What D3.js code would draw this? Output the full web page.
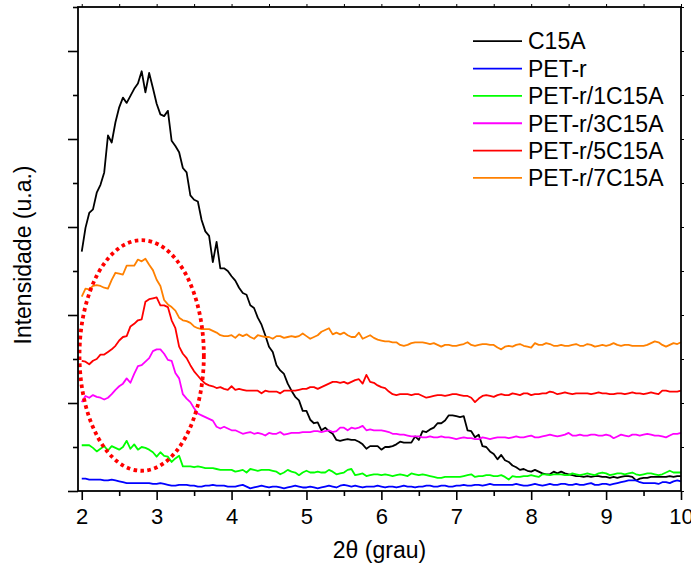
<!DOCTYPE html>
<html>
<head>
<meta charset="utf-8">
<script src="https://cdn.jsdelivr.net/npm/d3@7"></script>
<style>
  body { margin: 0; background: #fff; }
  svg { display: block; }
  text { font-family: Arial, "Liberation Sans", sans-serif; fill: #000; }
</style>
</head>
<body>
<svg id="chart" width="691" height="568"></svg>
<script>
// XRD scans, 2θ from 2° to 10° in 0.05° steps (intensity in arbitrary units)
const STEP = 0.05;
const twoTheta = d3.range(161).map(i => +(2 + i * STEP).toFixed(2));

const c15a = [
  272,299,316,320,339,348,362,404,396,419,
  436,447,441,449,457,463,477,453,475,458,
  440,428,426,432,398,392,385,367,362,336,
  331,329,308,295,290,260,283,253,253,250,
  244,239,231,225,223,211,208,197,189,177,
  164,158,143,137,133,122,114,107,103,91,
  91,81,77,78,69,72,68,65,58,57,
  58,59,58,58,56,53,48,51,51,51,
  47,50,50,51,53,56,55,55,55,62,
  58,68,67,70,72,77,77,80,86,86,
  85,84,85,69,68,61,64,51,50,45,
  42,36,41,35,33,29,27,24,25,23,
  22,24,22,20,19,19,22,20,22,20,
  19,18,17,17,16,17,16,17,17,16,
  16,15,16,15,16,17,17,16,12,14,
  15,15,16,16,16,16,16,17,16,17,
  17
];

const petR = [
  14,14,13,13,13,13,12,12,13,12,
  11,10,9,9,9,9,9,9,9,8,
  8,9,8,7,6,6,7,7,7,6,
  6,5,5,6,6,7,6,6,6,5,
  5,5,6,7,5,3,4,5,6,5,
  4,5,5,4,3,4,5,6,5,4,
  4,5,4,3,4,5,6,5,4,6,
  7,6,5,6,5,4,5,5,5,6,
  5,4,5,5,4,5,6,5,5,4,
  5,5,6,6,5,5,6,6,5,5,
  6,6,7,6,6,7,7,6,7,8,
  7,7,7,7,7,7,8,7,6,6,
  7,8,7,6,7,8,7,7,8,8,
  7,7,8,7,7,8,9,7,7,8,
  8,7,8,9,10,11,12,12,12,10,
  9,9,9,9,8,10,10,9,11,12,
  11
];

const petR1 = [
  52,52,52,49,45,48,51,46,51,49,
  47,50,57,48,53,47,50,49,47,44,
  39,44,40,39,33,37,40,28,28,28,
  27,28,27,26,26,26,25,24,24,24,
  24,22,23,24,21,25,24,23,24,24,
  24,23,22,19,21,24,22,21,18,21,
  23,21,21,22,21,21,24,22,19,20,
  21,24,25,18,19,20,17,18,19,19,
  18,19,18,17,18,19,18,17,20,19,
  18,19,18,17,16,15,15,16,16,16,
  16,16,17,18,19,16,17,17,18,18,
  17,17,18,16,13,17,16,16,17,17,
  18,17,16,19,19,18,19,19,19,18,
  18,20,19,18,19,20,19,18,20,21,
  20,18,19,20,20,19,20,21,19,18,
  19,20,20,19,18,19,21,23,21,21,
  21
];

const petR3 = [
  101,108,106,109,107,106,104,106,110,115,
  119,122,128,123,133,142,143,147,151,159,
  161,161,156,149,148,134,128,110,105,101,
  94,88,86,84,82,80,73,71,73,71,
  69,69,67,65,66,67,65,66,65,63,
  66,65,65,67,64,65,66,66,66,67,
  67,67,68,68,67,68,69,67,68,72,
  72,69,72,71,72,74,69,70,69,69,
  69,68,67,65,65,64,64,63,62,62,
  62,61,61,62,61,61,62,61,61,60,
  59,60,61,60,60,59,59,61,60,59,
  60,61,61,61,60,61,62,61,61,62,
  63,61,61,62,63,64,63,62,63,64,
  66,63,63,64,63,63,64,64,63,63,
  64,63,60,62,64,63,62,64,64,63,
  64,65,64,63,63,62,61,63,65,65,
  66
];

const petR5 = [
  148,147,144,148,150,155,155,158,161,165,
  171,175,176,187,190,194,195,215,218,219,
  220,211,211,209,194,185,164,156,151,143,
  136,131,126,122,120,119,117,118,116,115,
  119,115,116,115,114,114,114,114,111,114,
  113,113,113,111,114,114,114,114,115,116,
  116,118,118,116,118,120,122,124,124,123,
  124,122,124,126,127,122,132,124,123,120,
  118,117,113,110,109,110,110,110,109,110,
  110,108,106,107,108,109,109,108,109,110,
  110,109,108,108,106,101,105,108,109,108,
  107,109,110,109,109,111,110,109,111,111,
  109,110,110,111,111,113,112,110,111,112,
  111,110,111,111,111,111,110,111,112,111,
  111,110,110,111,111,110,111,112,111,111,
  110,111,112,111,110,114,114,113,113,113,
  114
];

const petR7 = [
  221,230,229,233,234,233,231,230,240,248,
  247,246,256,256,256,263,261,264,257,251,
  240,233,217,212,209,205,197,194,193,191,
  187,185,184,184,184,182,180,177,176,176,
  177,174,178,176,178,175,173,177,176,175,
  175,173,176,176,174,175,176,175,176,179,
  176,173,175,177,181,183,185,178,180,178,
  180,177,175,175,180,173,175,177,174,172,
  171,170,170,169,169,166,165,166,168,169,
  169,169,168,167,168,166,164,166,166,165,
  165,166,167,169,166,165,166,167,167,166,
  166,163,161,164,165,164,166,167,165,164,
  163,168,166,166,168,167,165,165,166,165,
  165,166,167,165,165,167,166,164,165,166,
  165,166,168,166,165,166,166,165,165,165,
  165,166,168,170,169,166,164,166,168,167,
  169
];

const seriesNames  = ["C15A", "PET-r", "PET-r/1C15A", "PET-r/3C15A", "PET-r/5C15A", "PET-r/7C15A"];
const seriesColors = ["#000000", "#0000ff", "#00ff00", "#ff00ff", "#ff0000", "#ff8000"];
const seriesValues = [c15a, petR, petR1, petR3, petR5, petR7];

const xMajorTicks = [2, 3, 4, 5, 6, 7, 8, 9, 10];
const xMinorTicks = [2.5, 3.5, 4.5, 5.5, 6.5, 7.5, 8.5, 9.5];
const yMajorTicks = [0, 100, 200, 300, 400, 500];
const yMinorTicks = [50, 150, 250, 350, 450, 550];

// highlighted basal reflection region (centre in 2θ / intensity, radii in the same units)
const highlight = { cx: 2.8, cy: 154, rx: 0.83, ry: 131 };

const svg = d3.select("#chart");
const plotLeft = 78, plotRight = 681, plotTop = 7, plotBottom = 491;

const x = d3.scaleLinear().domain([1.95, 10]).range([plotLeft, plotRight]);
const y = d3.scaleLinear().domain([0, 550]).range([plotBottom, plotTop]);

function styleAxis(g) {
  g.select(".domain").remove();
  g.selectAll(".tick line").attr("stroke", "#000").attr("stroke-width", 1.6);
}

// bottom axis: labelled majors, short minors
svg.append("g").attr("transform", `translate(0,${plotBottom})`)
  .call(d3.axisBottom(x).tickValues(xMajorTicks).tickSize(9).tickPadding(8).tickFormat(d3.format("d")))
  .call(styleAxis)
  .call(g => g.selectAll(".tick text").attr("font-size", 22).attr("font-family", "Arial, 'Liberation Sans', sans-serif").attr("fill", "#000"));
svg.append("g").attr("transform", `translate(0,${plotBottom})`)
  .call(d3.axisBottom(x).tickValues(xMinorTicks).tickSize(5).tickFormat(""))
  .call(styleAxis);

// top axis: small outward ticks
svg.append("g").attr("transform", `translate(0,${plotTop})`)
  .call(d3.axisTop(x).tickValues(xMajorTicks.concat(xMinorTicks)).tickSize(3).tickFormat(""))
  .call(styleAxis)
  .call(g => g.selectAll(".tick line").attr("stroke-width", 1));

// left axis: unlabelled intensity ticks
svg.append("g").attr("transform", `translate(${plotLeft},0)`)
  .call(d3.axisLeft(y).tickValues(yMajorTicks).tickSize(10).tickFormat(""))
  .call(styleAxis);
svg.append("g").attr("transform", `translate(${plotLeft},0)`)
  .call(d3.axisLeft(y).tickValues(yMinorTicks).tickSize(5).tickFormat(""))
  .call(styleAxis);

// right axis: small outward ticks
svg.append("g").attr("transform", `translate(${plotRight},0)`)
  .call(d3.axisRight(y).tickValues(yMajorTicks.concat(yMinorTicks)).tickSize(3).tickFormat(""))
  .call(styleAxis)
  .call(g => g.selectAll(".tick line").attr("stroke-width", 1));

// curves
const line = d3.line()
  .x((d, i) => x(twoTheta[i]))
  .y(d => y(d));

seriesValues.forEach((vals, k) => {
  svg.append("path")
    .datum(vals)
    .attr("fill", "none")
    .attr("stroke", seriesColors[k])
    .attr("stroke-width", 1.8)
    .attr("stroke-linejoin", "round")
    .attr("d", line);
});

// dotted ellipse around the low-angle peaks
svg.append("ellipse")
  .attr("cx", x(highlight.cx))
  .attr("cy", y(highlight.cy))
  .attr("rx", x(highlight.cx + highlight.rx) - x(highlight.cx))
  .attr("ry", y(0) - y(highlight.ry))
  .attr("fill", "none")
  .attr("stroke", "#ff0000")
  .attr("stroke-width", 3.8)
  .attr("stroke-dasharray", "3.6,3.4");

// plot frame
svg.append("rect")
  .attr("x", plotLeft).attr("y", plotTop)
  .attr("width", plotRight - plotLeft).attr("height", plotBottom - plotTop)
  .attr("fill", "none").attr("stroke", "#000").attr("stroke-width", 1.8);

// axis titles
svg.append("text")
  .attr("x", (plotLeft + plotRight) / 2).attr("y", 558)
  .attr("text-anchor", "middle").attr("font-size", 23)
  .text("2θ (grau)");
svg.append("text")
  .attr("transform", `translate(31,${(plotTop + plotBottom) / 2 + 6}) rotate(-90)`)
  .attr("text-anchor", "middle").attr("font-size", 23)
  .text("Intensidade (u.a.)");

// legend
const legend = svg.append("g");
seriesNames.forEach((name, k) => {
  const ly = 41.2 + k * 27.35;
  legend.append("line")
    .attr("x1", 473).attr("x2", 522).attr("y1", ly).attr("y2", ly)
    .attr("stroke", seriesColors[k]).attr("stroke-width", 1.8);
  legend.append("text")
    .attr("x", 528).attr("y", ly).attr("dy", "0.36em")
    .attr("font-size", 23)
    .text(name);
});
</script>
</body>
</html>
